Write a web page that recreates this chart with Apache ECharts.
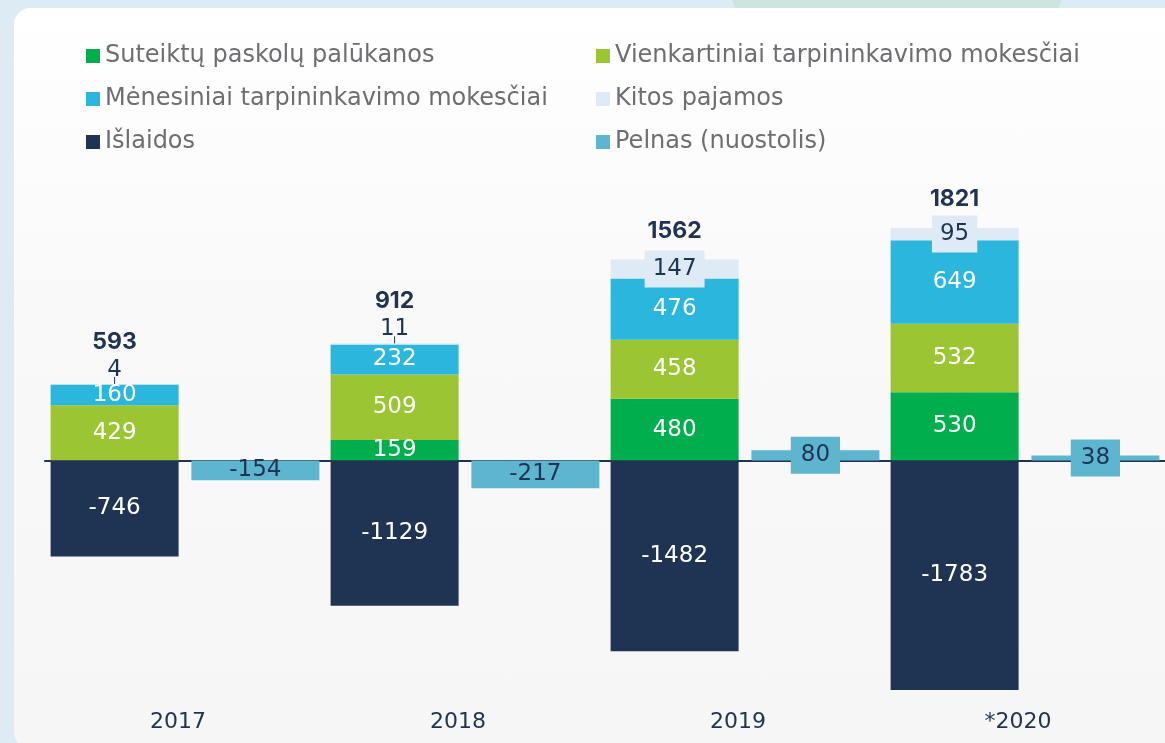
<!DOCTYPE html>
<html>
<head>
<meta charset="utf-8">
<title>Pajamos ir išlaidos</title>
<script src="https://cdn.jsdelivr.net/npm/echarts@6/dist/echarts.min.js"></script>
<style>
  html, body {
    margin: 0;
    padding: 0;
    width: 1165px;
    height: 743px;
    overflow: hidden;
    background: #ddebf5;
    position: relative;
  }
  .blob {
    position: absolute;
    left: 719px;
    top: -245px;
    width: 356px;
    height: 356px;
    border-radius: 50%;
    background: #cfe4de;
  }
  .card {
    position: absolute;
    left: 14px;
    top: 8px;
    width: 1220px;
    height: 740px;
    border-radius: 16px;
    background: linear-gradient(#ffffff 0%, #f9f9f9 40%, #f6f6f6 100%);
  }
  #chart {
    position: absolute;
    left: 0;
    top: 0;
    width: 1165px;
    height: 743px;
  }
</style>
</head>
<body>
<div class="blob"></div>
<div class="card"></div>
<div id="chart"></div>
<script>
const FONT = '"DejaVu Sans", Inter, sans-serif'
const BOLD_FONT = 'Inter, "Noto Sans", sans-serif'
const NAVY = '#1f3353'

// duomenys (tūkst. EUR)
const categories = ['2017', '2018', '2019', '*2020']
const loanInterest = [null, 159, 480, 530]
const oneTimeFees = [429, 509, 458, 532]
const monthlyFees = [160, 232, 476, 649]
const otherIncome = [4, 11, 147, 95]
const expenses = [-746, -1129, -1482, -1783]
const profit = [-154, -217, 80, 38]
const totals = [593, 912, 1562, 1821]

const names = {
  loan: 'Suteiktų paskolų palūkanos',
  oneTime: 'Vienkartiniai tarpininkavimo mokesčiai',
  monthly: 'Mėnesiniai tarpininkavimo mokesčiai',
  other: 'Kitos pajamos',
  expenses: 'Išlaidos',
  profit: 'Pelnas (nuostolis)'
}

const colors = {
  loan: '#00ae4d',
  oneTime: '#9bc532',
  monthly: '#2bb6de',
  other: '#deebf6',
  expenses: '#1f3353',
  profit: '#5eb5cf'
}

const BAR_W = 128
const LABEL_SIZE = 23
const whiteLabel = { show: true, position: 'inside', color: '#fff', fontSize: LABEL_SIZE, fontFamily: FONT }

function stackSeries(key, data) {
  return {
    name: names[key],
    type: 'bar',
    stack: 'flow',
    barWidth: BAR_W,
    data,
    itemStyle: { color: colors[key] },
    label: whiteLabel
  }
}

// mažos reikšmės rodomos virš stulpelio, kitos - stulpelio viduje
const otherData = otherIncome.map((v) =>
  v < 50
    ? {
        value: v,
        label: {
          position: 'top',
          distance: 0,
          formatter: (p) => `{v|${p.value}}\n{t|}`,
          rich: {
            v: { color: NAVY, fontSize: LABEL_SIZE, fontFamily: FONT, lineHeight: 14 },
            t: { width: 1, height: 7, lineHeight: 7, backgroundColor: NAVY }
          }
        }
      }
    : {
        value: v,
        label: { position: 'inside', backgroundColor: colors.other, padding: [7, 8] }
      }
)

const totalData = totals.map((t, i) => ({
  value: 0,
  label: { distance: otherIncome[i] < 50 ? 31 : 17 }
}))

const profitData = profit.map((v) =>
  Math.abs(v) < 100
    ? { value: v, label: { backgroundColor: colors.profit, padding: [7, 10] } }
    : { value: v }
)

const legendBase = {
  top: 44,
  padding: 0,
  orient: 'vertical',
  itemGap: 19,
  itemWidth: 14,
  itemHeight: 14,
  icon: 'rect',
  selectedMode: false,
  textStyle: { fontFamily: FONT, fontSize: 24, color: '#6d6e71', lineHeight: 24 }
}

const option = {
  animation: false,
  textStyle: { fontFamily: FONT },
  legend: [
    { ...legendBase, left: 86, data: [names.loan, names.monthly, names.expenses] },
    { ...legendBase, left: 596, data: [names.oneTime, names.other, names.profit] }
  ],
  grid: {
    left: 45,
    right: 0,
    top: 203,
    bottom: 38,
    outerBoundsMode: 'none'
  },
  xAxis: [
    {
      type: 'category',
      data: categories,
      position: 'bottom',
      axisLine: { onZero: true, lineStyle: { color: NAVY, width: 2 } },
      axisTick: { show: false },
      axisLabel: { show: false }
    },
    {
      type: 'category',
      data: categories,
      position: 'bottom',
      axisLine: { show: false, onZero: false },
      axisTick: { show: false },
      axisLabel: { color: NAVY, fontSize: 22, fontFamily: FONT, margin: 6, padding: [0, 14, 0, 0] }
    }
  ],
  yAxis: {
    type: 'value',
    min: -1900,
    max: 2000,
    show: false,
    splitLine: { show: false }
  },
  series: [
    stackSeries('loan', loanInterest),
    stackSeries('oneTime', oneTimeFees),
    stackSeries('monthly', monthlyFees),
    {
      name: names.other,
      type: 'bar',
      stack: 'flow',
      barWidth: BAR_W,
      data: otherData,
      itemStyle: { color: colors.other },
      label: { show: true, color: NAVY, fontSize: LABEL_SIZE, fontFamily: FONT }
    },
    {
      // sumos virš stulpelio
      name: 'Iš viso',
      type: 'bar',
      stack: 'flow',
      barWidth: BAR_W,
      data: totalData,
      silent: true,
      itemStyle: { color: 'transparent' },
      label: {
        show: true,
        position: 'top',
        color: NAVY,
        fontSize: 23,
        fontWeight: 'bold',
        fontFamily: BOLD_FONT,
        formatter: (p) => totals[p.dataIndex]
      }
    },
    stackSeries('expenses', expenses),
    {
      name: names.profit,
      type: 'bar',
      stack: 'profit',
      barWidth: BAR_W,
      barGap: '10%',
      data: profitData,
      itemStyle: { color: colors.profit },
      label: { show: true, position: 'inside', color: NAVY, fontSize: LABEL_SIZE, fontFamily: FONT }
    }
  ]
}

const chart = echarts.init(document.getElementById('chart'))
chart.setOption(option)
window.addEventListener('resize', () => chart.resize())
</script>
</body>
</html>
